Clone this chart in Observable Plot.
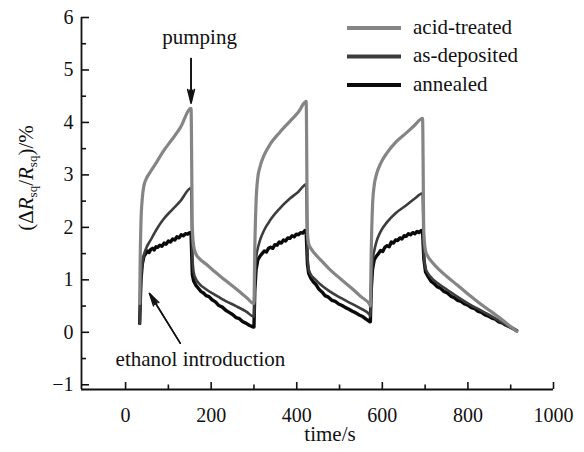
<!DOCTYPE html>
<html><head><meta charset="utf-8">
<script src="https://cdn.jsdelivr.net/npm/d3@7"></script>
<script src="https://cdn.jsdelivr.net/npm/@observablehq/plot@0.6"></script>
<style>body{margin:0;background:#fff;} #chart{width:584px;height:452px;} #chart svg, #chart svg text{font-family:"Liberation Serif","Times New Roman",Times,"DejaVu Serif",serif !important;}</style>
</head><body><div id="chart"></div>
<script>
// time (s) samples for acid-treated and as-deposited
const times = [
  33,34,36,39,43,48,58,73,88,108,128,153, 156,159,164,173,188,208,233,258,283,299,
  300,302,305,309,314,324,339,359,384,404,422, 425,428,433,442,457,477,502,527,550,571,
  572,574,577,581,586,596,611,631,656,676,694, 697,701,707,717,732,750,775,800,825,850,875,898,914
];
const acidTreated = [
  0.55,1.3,2.1,2.55,2.8,2.92,3.06,3.25,3.45,3.67,3.9,4.27, 2.0,1.65,1.5,1.40,1.30,1.16,0.99,0.83,0.66,0.55,
  0.55,1.6,2.5,2.95,3.15,3.38,3.6,3.8,4.02,4.2,4.4, 1.9,1.68,1.6,1.5,1.37,1.2,1.02,0.85,0.68,0.52,
  0.5,1.5,2.4,2.8,3.0,3.22,3.42,3.62,3.8,3.95,4.08, 1.9,1.55,1.44,1.33,1.2,1.07,0.9,0.73,0.57,0.42,0.27,0.12,0.02
];
const asDeposited = [
  0.17,0.5,1.0,1.3,1.48,1.6,1.75,1.97,2.15,2.33,2.5,2.75, 1.5,1.15,1.02,0.92,0.82,0.72,0.6,0.5,0.39,0.3,
  0.3,0.9,1.4,1.6,1.75,1.95,2.15,2.35,2.55,2.68,2.82, 1.5,1.2,1.1,1.02,0.9,0.78,0.66,0.55,0.45,0.33,
  0.3,0.9,1.35,1.55,1.72,1.92,2.1,2.27,2.42,2.55,2.65, 1.5,1.22,1.12,1.02,0.92,0.82,0.68,0.55,0.44,0.33,0.21,0.1,0.02
];
// annealed is noisier, so it is sampled more finely
const annealedTimes = [
  33,34,36,39,43,47,51,55,59,63,67,71,75,80,85,90,95,100,105,110,115,120,125,130,135,140,145,150,153,
  156,159,164,170,176,182,188,195,202,210,218,226,234,242,250,258,266,274,282,290,299,
  300,302,305,309,314,319,324,329,334,339,344,349,354,359,364,369,374,379,384,389,394,399,404,409,414,419,422,
  425,428,433,439,445,452,459,466,474,482,490,498,506,514,522,530,538,546,554,562,571,
  572,574,577,581,586,591,596,601,606,611,616,621,626,631,636,641,646,651,656,661,666,671,676,681,686,691,694,
  697,701,707,714,721,728,736,744,752,760,768,776,784,792,800,808,816,824,832,840,848,856,864,872,880,888,896,904,914
];
const annealed = [
  0.17,0.5,1.0,1.3,1.45,1.5,1.55,1.52,1.58,1.6,1.57,1.63,1.62,1.66,1.64,1.7,1.68,1.74,1.72,1.78,1.76,1.82,1.8,1.86,1.84,1.88,1.87,1.9,1.89,
  1.1,0.98,0.9,0.84,0.78,0.75,0.7,0.68,0.62,0.58,0.51,0.48,0.42,0.38,0.34,0.28,0.26,0.2,0.17,0.13,0.1,
  0.1,0.8,1.2,1.38,1.45,1.5,1.55,1.53,1.6,1.62,1.6,1.67,1.66,1.72,1.7,1.76,1.74,1.8,1.79,1.84,1.82,1.87,1.86,1.9,1.89,1.94,1.93,
  1.3,1.12,1.03,0.96,0.91,0.82,0.77,0.7,0.67,0.61,0.59,0.54,0.51,0.47,0.44,0.4,0.37,0.33,0.3,0.25,0.2,
  0.2,0.8,1.2,1.38,1.45,1.5,1.56,1.54,1.62,1.65,1.63,1.72,1.7,1.76,1.75,1.8,1.78,1.84,1.83,1.88,1.86,1.9,1.88,1.92,1.9,1.94,1.93,
  1.4,1.15,1.06,0.97,0.93,0.87,0.84,0.78,0.75,0.69,0.66,0.61,0.59,0.54,0.52,0.47,0.45,0.4,0.38,0.33,0.31,0.27,0.25,0.2,0.18,0.14,0.11,0.08,0.03
];
const seriesNames = ["acid-treated", "as-deposited", "annealed"];
const seriesColors = ["#858585", "#3d3d3d", "#0a0a0a"];
const xTicks = [0, 200, 400, 600, 800, 1000];
const xMinorTicks = [100, 300, 500, 700, 900];
const yTicks = [-1, 0, 1, 2, 3, 4, 5, 6];
const yMinorTicks = [-0.5, 0.5, 1.5, 2.5, 3.5, 4.5, 5.5];
const xDomain = [-103, 1000];
const yDomain = [-1.09, 6];

const seriesTimes = [times, times, annealedTimes];
const seriesValues = [acidTreated, asDeposited, annealed];
const rows = (k) => seriesTimes[k].map((t, i) => ({t, v: seriesValues[k][i], s: seriesNames[k]}));

// annotation anchors
const cycle1 = rows(0).filter(d => d.t < 200);
const peak = cycle1.reduce((a, b) => (b.v > a.v ? b : a));
const pumpArrow = [{x: peak.t, y1: 5.22, y2: peak.v + 0.1}];
const ethanolArrow = [{x1: 128, y1: -0.21, x2: 56, y2: 0.74}];
const notes = [{x: 173, y: 5.63, label: "pumping"}, {x: 175, y: -0.51, label: "ethanol introduction"}];

const blank = () => "";
const font = "Liberation Serif, Times New Roman, DejaVu Serif, serif";
const plot = Plot.plot({
  width: 584, height: 452,
  marginLeft: 81, marginRight: 31, marginTop: 17, marginBottom: 63,
  x: {domain: xDomain, axis: null},
  y: {domain: yDomain, axis: null},
  style: {fontFamily: font, fontSize: "20px", background: "#fff", color: "#111"},
  marks: [
    Plot.axisX({ticks: xTicks, tickSize: 0, tickPadding: 18, fontSize: 20, anchor: "bottom", label: null, tickFormat: d => String(d)}),
    Plot.axisX({ticks: xTicks, tickSize: -7, anchor: "bottom", strokeWidth: 1.6, tickFormat: blank, label: null}),
    Plot.axisX({ticks: xMinorTicks, tickSize: -4.5, anchor: "bottom", strokeWidth: 1.6, tickFormat: blank, label: null}),
    Plot.axisY({ticks: yTicks, tickSize: 0, tickPadding: 8, fontSize: 20, anchor: "left", label: null}),
    Plot.axisY({ticks: yTicks, tickSize: -8, anchor: "left", strokeWidth: 1.6, tickFormat: blank, label: null}),
    Plot.axisY({ticks: yMinorTicks, tickSize: -5, anchor: "left", strokeWidth: 1.6, tickFormat: blank, label: null}),
    Plot.ruleY([yDomain[0]], {strokeWidth: 1.8, stroke: "#111"}),
    Plot.ruleX([xDomain[0]], {strokeWidth: 1.8, stroke: "#111"}),
    Plot.line(rows(2), {x: "t", y: "v", stroke: seriesColors[2], strokeWidth: 3.4}),
    Plot.line(rows(1), {x: "t", y: "v", stroke: seriesColors[1], strokeWidth: 2.6, curve: "monotone-x"}),
    Plot.line(rows(0), {x: "t", y: "v", stroke: seriesColors[0], strokeWidth: 3.2, curve: "monotone-x"}),
    Plot.arrow(pumpArrow, {x: "x", y1: "y1", y2: "y2", stroke: "#111", strokeWidth: 1.6, headAngle: 28, headLength: 13}),
    Plot.arrow(pumpArrow, {x: "x", y1: "y1", y2: "y2", stroke: "#111", strokeWidth: 1.6, headAngle: 14, headLength: 12}),
    Plot.arrow(ethanolArrow, {x1: "x1", y1: "y1", x2: "x2", y2: "y2", stroke: "#111", strokeWidth: 1.5, headAngle: 28, headLength: 13}),
    Plot.arrow(ethanolArrow, {x1: "x1", y1: "y1", x2: "x2", y2: "y2", stroke: "#111", strokeWidth: 1.5, headAngle: 14, headLength: 12}),
    Plot.text(notes, {x: "x", y: "y", text: "label", fontSize: 21, fill: "#111"})
  ]
});
document.getElementById("chart").append(plot);

const svg = d3.select(plot);
// legend
const lg = svg.append("g").attr("text-anchor", "start");
seriesNames.forEach((name, i) => {
  const y = 28 + i * 28.5;
  lg.append("line").attr("x1", 347).attr("x2", 401).attr("y1", y).attr("y2", y)
    .attr("stroke", seriesColors[i]).attr("stroke-width", 4);
  lg.append("text").attr("x", 413).attr("y", y + 5.5).attr("font-size", 21)
    .attr("fill", "#111").text(name);
});
// x label
svg.append("text").attr("x", 330).attr("y", 441).attr("text-anchor", "middle")
  .attr("font-size", 21).attr("fill", "#111").text("time/s");
// y label with italic R and subscripts
const yl = svg.append("text").attr("transform", "translate(33,178) rotate(-90)")
  .attr("text-anchor", "middle").attr("font-size", 21).attr("fill", "#111");
yl.append("tspan").text("(Δ");
yl.append("tspan").attr("font-style", "italic").text("R");
yl.append("tspan").attr("font-size", 13).attr("dy", 4).text("sq");
yl.append("tspan").attr("dy", -4).text("/");
yl.append("tspan").attr("font-style", "italic").text("R");
yl.append("tspan").attr("font-size", 13).attr("dy", 4).text("sq");
yl.append("tspan").attr("dy", -4).text(")/%");
</script>
</body></html>
